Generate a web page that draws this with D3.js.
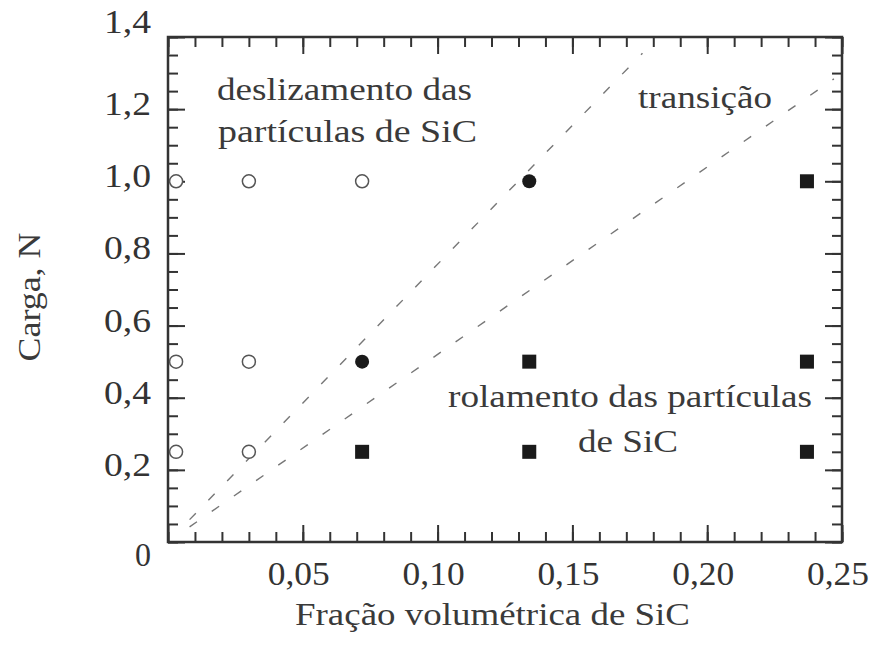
<!DOCTYPE html>
<html>
<head>
<meta charset="utf-8">
<script src="https://cdn.jsdelivr.net/npm/d3@7"></script>
<style>
body { margin: 0; background: #fff; }
</style>
</head>
<body>
<div id="chart"></div>
<script>
var serif = "'Liberation Serif', 'Times New Roman', Tinos, 'DejaVu Serif', serif";

// data
var xMajor = [0, 0.05, 0.10, 0.15, 0.20, 0.25];
var xLabels = ["", "0,05", "0,10", "0,15", "0,20", "0,25"];
var yMajor = [0, 0.2, 0.4, 0.6, 0.8, 1.0, 1.2, 1.4];
var yLabels = ["0", "0,2", "0,4", "0,6", "0,8", "1,0", "1,2", "1,4"];

// open circles: particle sliding
var slideX = [0.003, 0.030, 0.072, 0.003, 0.030, 0.003, 0.030];
var slideY = [1.0, 1.0, 1.0, 0.5, 0.5, 0.25, 0.25];
// filled circles: transition
var transX = [0.134, 0.072];
var transY = [1.0, 0.5];
// squares: particle rolling
var rollX = [0.237, 0.134, 0.237, 0.072, 0.134, 0.237];
var rollY = [1.0, 0.5, 0.5, 0.25, 0.25, 0.25];

// dashed boundary lines (end points)
var upperX = [0.008, 0.176];
var upperY = [0.062, 1.355];
var lowerX = [0.008, 0.247];
var lowerY = [0.042, 1.284];

var margin = {top: 37, right: 44, bottom: 110, left: 168},
    width = 886 - margin.left - margin.right,
    height = 652 - margin.top - margin.bottom;

var svg = d3.select("#chart")
    .append("svg")
    .attr("width", 886)
    .attr("height", 652)
    .append("g")
    .attr("transform", "translate(" + margin.left + "," + margin.top + ")");

var x = d3.scaleLinear().domain([0, 0.25]).range([0, width]);
var y = d3.scaleLinear().domain([0, 1.4]).range([height, 0]);

var xMinor = d3.range(0, 0.2501, 0.01);
var yMinor = d3.range(0, 1.4001, 0.05);

// minor ticks on all four sides (inward)
svg.append("g").attr("class", "tk")
    .attr("transform", "translate(0," + height + ")")
    .call(d3.axisBottom(x).tickValues(xMinor).tickSize(-10).tickFormat(""));
svg.append("g").attr("class", "tk")
    .call(d3.axisTop(x).tickValues(xMinor).tickSize(-10).tickFormat(""));
svg.append("g").attr("class", "tk")
    .call(d3.axisLeft(y).tickValues(yMinor).tickSize(-10).tickFormat(""));
svg.append("g").attr("class", "tk")
    .attr("transform", "translate(" + width + ",0)")
    .call(d3.axisRight(y).tickValues(yMinor).tickSize(-10).tickFormat(""));

// major ticks
svg.append("g").attr("class", "tk")
    .attr("transform", "translate(0," + height + ")")
    .call(d3.axisBottom(x).tickValues(xMajor).tickSize(-17).tickFormat(""));
svg.append("g").attr("class", "tk")
    .call(d3.axisTop(x).tickValues(xMajor).tickSize(-17).tickFormat(""));
svg.append("g").attr("class", "tk")
    .call(d3.axisLeft(y).tickValues(yMajor).tickSize(-17).tickFormat(""));
svg.append("g").attr("class", "tk")
    .attr("transform", "translate(" + width + ",0)")
    .call(d3.axisRight(y).tickValues(yMajor).tickSize(-17).tickFormat(""));

svg.selectAll(".tk .domain").remove();
svg.selectAll(".tk line").attr("stroke", "#333").attr("stroke-width", 2);

// frame
svg.append("rect")
    .attr("width", width)
    .attr("height", height)
    .attr("fill", "none")
    .attr("stroke", "#333")
    .attr("stroke-width", 2.5);

// tick labels
svg.append("g").selectAll("text")
    .data(xMajor.slice(1))
    .enter().append("text")
    .attr("x", function(d) { return x(d) - 4; })
    .attr("y", height + 43)
    .attr("text-anchor", "middle")
    .attr("textLength", 62)
    .attr("lengthAdjust", "spacingAndGlyphs")
    .style("font-family", serif)
    .style("font-size", "33px")
    .style("fill", "#333")
    .text(function(d, i) { return xLabels[i + 1]; });

svg.append("g").selectAll("text")
    .data(yMajor)
    .enter().append("text")
    .attr("x", -17)
    .attr("y", function(d) {
        if (d === 0) return y(d) + 24;
        if (d === 1.4) return y(d) - 4;
        return y(d) + 6;
    })
    .attr("text-anchor", "end")
    .attr("textLength", function(d) { return d === 0 ? 16 : 47; })
    .attr("lengthAdjust", "spacingAndGlyphs")
    .style("font-family", serif)
    .style("font-size", "33px")
    .style("fill", "#333")
    .text(function(d, i) { return yLabels[i]; });

// plain text helper: start x, baseline y, target width
function label(tx, ty, len, s) {
    return svg.append("text")
        .attr("x", tx).attr("y", ty)
        .attr("textLength", len)
        .attr("lengthAdjust", "spacingAndGlyphs")
        .style("font-family", serif)
        .style("font-size", "31px")
        .style("fill", "#3a3a3a")
        .text(s);
}

// axis titles
label(127, 588, 395, "Fração volumétrica de SiC");
label(0, 0, 129, "Carga, N")
    .attr("text-anchor", "middle")
    .attr("transform", "translate(-128,260) rotate(-90)");

// dashed lines
var line = d3.line().x(function(d) { return x(d[0]); }).y(function(d) { return y(d[1]); });
[[upperX, upperY], [lowerX, lowerY]].forEach(function(l) {
    svg.append("path")
        .datum(d3.zip(l[0], l[1]))
        .attr("d", line)
        .attr("fill", "none")
        .attr("stroke", "#777")
        .attr("stroke-width", 1.4)
        .attr("stroke-dasharray", "9,18");
});

// region labels
label(49, 63, 255, "deslizamento das");
label(50, 105, 259, "partículas  de SiC");
label(470, 71, 134, "transição");
label(280, 370, 364, "rolamento das partículas");
label(410, 415, 100, "de SiC");

// markers
svg.append("g").selectAll("circle")
    .data(d3.zip(slideX, slideY))
    .enter().append("circle")
    .attr("cx", function(d) { return x(d[0]); })
    .attr("cy", function(d) { return y(d[1]); })
    .attr("r", 6.5)
    .attr("fill", "#fff")
    .attr("stroke", "#555")
    .attr("stroke-width", 1.5);

svg.append("g").selectAll("circle")
    .data(d3.zip(transX, transY))
    .enter().append("circle")
    .attr("cx", function(d) { return x(d[0]); })
    .attr("cy", function(d) { return y(d[1]); })
    .attr("r", 7)
    .attr("fill", "#1a1a1a");

svg.append("g").selectAll("rect")
    .data(d3.zip(rollX, rollY))
    .enter().append("rect")
    .attr("x", function(d) { return x(d[0]) - 7; })
    .attr("y", function(d) { return y(d[1]) - 7; })
    .attr("width", 14)
    .attr("height", 14)
    .attr("fill", "#1a1a1a");
</script>
</body>
</html>
